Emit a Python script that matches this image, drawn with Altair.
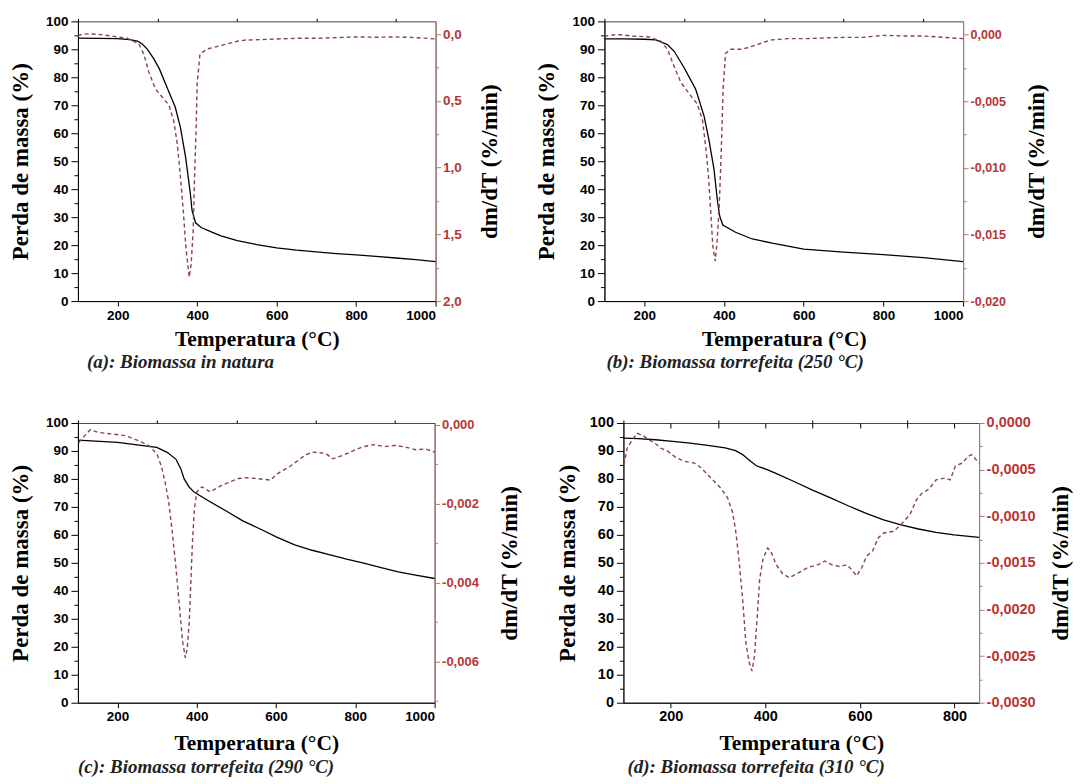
import altair as alt
import pandas as pd

# ---------------- data ----------------
# (a) Biomassa in natura
a_T_mass = [100, 150, 200, 230, 250, 262, 275, 291, 305, 324, 345, 358, 371, 383, 387, 396, 410, 434, 460, 501, 550, 600, 650, 700, 750, 800, 850, 900, 950, 1000]
a_mass = [94.0, 93.9, 93.8, 93.5, 92.9, 91.9, 90.0, 86.6, 83.0, 76.4, 69.3, 62.0, 51.4, 38.3, 32.5, 28.0, 26.3, 24.8, 23.3, 21.6, 20.2, 19.0, 18.2, 17.6, 17.0, 16.5, 16.0, 15.4, 14.8, 14.1]
a_T_dtg = [100, 110, 126, 150, 182, 224, 253, 266, 278, 295, 312, 329, 341, 350, 358, 365, 371, 375, 380, 385, 390, 393, 397, 400, 407, 425, 459, 501, 522, 560, 600, 650, 700, 750, 800, 850, 900, 950, 1000]
a_dtg = [0.012, 0.0, -0.003, 0.0, 0.012, 0.03, 0.07, 0.15, 0.28, 0.41, 0.47, 0.53, 0.65, 0.82, 1.07, 1.32, 1.57, 1.69, 1.82, 1.72, 1.47, 1.12, 0.75, 0.37, 0.15, 0.11, 0.085, 0.052, 0.043, 0.04, 0.035, 0.03, 0.03, 0.025, 0.02, 0.022, 0.02, 0.025, 0.035]

# (b) Biomassa torrefeita (250 °C)
b_T_mass = [100, 150, 200, 229, 258, 275, 300, 329, 350, 362, 375, 383, 389, 397, 429, 471, 521, 600, 700, 800, 900, 1000]
b_mass = [93.7, 93.7, 93.6, 93.4, 91.7, 89.3, 83.4, 75.7, 66.1, 57.8, 47.1, 36.5, 30.5, 27.2, 24.6, 22.2, 20.7, 18.6, 17.5, 16.6, 15.5, 14.1]
b_T_dtg = [100, 120, 138, 170, 212, 242, 258, 275, 292, 317, 333, 346, 354, 361, 367, 372, 378, 383, 388, 393, 398, 404, 417, 446, 488, 517, 560, 600, 650, 700, 750, 800, 850, 900, 950, 1000]
b_dtg = [-0.00012, -0.00002, 0.0, -0.0001, -0.00017, -0.0005, -0.0011, -0.0024, -0.0036, -0.0046, -0.0052, -0.0064, -0.0084, -0.0106, -0.0134, -0.0159, -0.0170, -0.0154, -0.0129, -0.0089, -0.0039, -0.0014, -0.0011, -0.0011, -0.0007, -0.0004, -0.0003, -0.0003, -0.00025, -0.0002, -0.0002, -0.00005, -0.0001, -0.0001, -0.0002, -0.0003]

# (c) Biomassa torrefeita (290 °C)
c_T_mass = [100, 200, 299, 325, 347, 360, 368, 381, 394, 429, 473, 516, 560, 603, 647, 691, 734, 778, 821, 865, 908, 952, 1000]
c_mass = [93.9, 93.1, 91.3, 89.5, 87.1, 83.5, 80.0, 77.0, 75.2, 72.2, 68.6, 65.0, 62.1, 59.1, 56.4, 54.5, 52.9, 51.3, 49.9, 48.3, 46.8, 45.6, 44.4]
c_T_dtg = [102, 114, 131, 152, 186, 219, 253, 278, 299, 310, 320, 329, 337, 345, 352, 358, 364, 371, 376, 381, 385, 389, 394, 400, 413, 434, 463, 505, 525, 551, 586, 603, 638, 673, 691, 725, 743, 769, 795, 821, 847, 874, 900, 926, 952, 978, 1000]
c_dtg = [-0.00045, -0.00031, -0.00012, -0.00019, -0.00023, -0.00027, -0.0004, -0.00052, -0.00073, -0.00103, -0.00145, -0.00195, -0.00263, -0.00338, -0.00414, -0.00482, -0.00549, -0.00591, -0.00566, -0.00498, -0.00397, -0.00296, -0.00212, -0.0017, -0.00157, -0.0017, -0.00153, -0.00136, -0.00134, -0.00136, -0.0014, -0.00124, -0.00103, -0.00077, -0.00069, -0.00072, -0.00086, -0.00077, -0.00065, -0.00055, -0.0005, -0.00055, -0.00052, -0.00056, -0.00063, -0.00061, -0.00069]

# (d) Biomassa torrefeita (310 °C)
d_T_mass = [100, 131, 168, 204, 241, 278, 315, 337, 352, 367, 381, 404, 426, 463, 501, 538, 575, 612, 650, 687, 724, 761, 799, 852]
d_mass = [94.6, 94.4, 94.0, 93.4, 92.8, 92.0, 91.1, 90.1, 88.7, 86.6, 84.7, 83.3, 81.7, 78.9, 75.9, 73.2, 70.4, 67.8, 65.4, 63.6, 62.1, 60.9, 60.0, 59.1]
d_T_dtg = [101, 108, 119, 129, 140, 154, 165, 179, 193, 211, 228, 250, 264, 285, 306, 320, 331, 338, 345, 352, 359, 366, 372, 377, 383, 388, 395, 405, 412, 423, 437, 451, 469, 490, 512, 526, 540, 558, 572, 582, 593, 604, 614, 627, 639, 650, 672, 687, 706, 720, 732, 746, 761, 780, 791, 802, 817, 828, 836, 852]
d_dtg = [-0.00045, -0.00027, -0.00018, -0.00011, -0.00013, -0.00018, -0.00021, -0.00027, -0.0003, -0.00037, -0.00041, -0.00043, -0.00048, -0.00059, -0.0007, -0.0008, -0.00096, -0.00118, -0.0015, -0.00189, -0.00236, -0.00257, -0.00266, -0.0025, -0.00207, -0.00168, -0.00146, -0.00134, -0.00138, -0.00152, -0.00162, -0.00166, -0.00161, -0.00155, -0.00152, -0.00148, -0.00152, -0.00154, -0.00152, -0.00157, -0.00164, -0.00155, -0.00143, -0.00137, -0.00123, -0.00118, -0.00116, -0.00109, -0.00098, -0.00082, -0.00075, -0.00071, -0.00061, -0.00059, -0.00061, -0.00046, -0.00043, -0.00036, -0.00034, -0.00043]

captions = ["(a): Biomassa in natura", "(b): Biomassa torrefeita (250 °C)",
            "(c): Biomassa torrefeita (290 °C)", "(d): Biomassa torrefeita (310 °C)"]

mass_major = list(range(0, 101, 10))
mass_minor = [v + 5 for v in range(0, 100, 10)]

RED_LINE = "#8a4646"
RED_LABEL = "#b83535"
RED_AXIS = "#b07878"
SANS = "Liberation Sans"
SERIF = "Liberation Serif"


def label_expr(decimals):
    return ("(datum.value < -1e-12 ? '-' : '') + replace(format(abs(datum.value), '.%df'), '.', ',')" % decimals)


def panel(Tm, M, Td, D, xdom, xmaj, xmin, rdom, rmaj, rmin, dec, caption, w, h,
          reverse=False, lsize=13.5, rsize=13, ltp=13, rtp=18, xtp=7, cdx=4, coff=2, top_ticks=None):
    dfm = pd.DataFrame({"T": Tm, "M": M})
    dfd = pd.DataFrame({"T": Td, "D": D})
    xs = alt.Scale(domain=xdom, nice=False, zero=False)
    ys = alt.Scale(domain=[0, 100], nice=False, zero=False)
    rs = alt.Scale(domain=rdom, nice=False, zero=False, reverse=reverse)

    black = alt.Chart(dfm).mark_line(color="black", strokeWidth=1.3).encode(
        x=alt.X("T:Q", scale=xs, axis=alt.Axis(
            values=xmaj, format="d", title="Temperatura (°C)",
            labelFont=SANS, labelFontWeight="bold", labelFontSize=lsize,
            titleFont=SERIF, titleFontWeight="bold", titleFontSize=21.5,
            titleAngle=0, titleBaseline="top",
            tickSize=5, labelPadding=2, titlePadding=xtp, grid=False,
            domainColor="black", tickColor="black", labelColor="black", titleColor="black")),
        y=alt.Y("M:Q", scale=ys, axis=alt.Axis(
            values=mass_major, orient="left", title="Perda de massa (%)",
            labelFont=SANS, labelFontWeight="bold", labelFontSize=lsize,
            titleFont=SERIF, titleFontWeight="bold", titleFontSize=23,
            titleAngle=270, titleBaseline="bottom",
            tickSize=7, labelPadding=3, titlePadding=ltp, grid=False,
            domainColor="black", tickColor="black", labelColor="black", titleColor="black")),
    )
    black_minor = alt.Chart(dfm).mark_line(opacity=0).encode(
        x=alt.X("T:Q", scale=xs, axis=alt.Axis(values=xmin, labels=False, title=None, tickSize=3,
                                                domain=False, tickColor="black", grid=False)),
        y=alt.Y("M:Q", scale=ys, axis=alt.Axis(values=mass_minor, orient="left", labels=False, title=None,
                                                tickSize=4, domain=False, tickColor="black", grid=False)),
    )
    red = alt.Chart(dfd).mark_line(color=RED_LINE, strokeDash=[4, 3], strokeWidth=1.4).encode(
        x=alt.X("T:Q", scale=xs, axis=None),
        y=alt.Y("D:Q", scale=rs, axis=alt.Axis(
            values=rmaj, orient="right", title="dm/dT (%/min)", labelExpr=label_expr(dec),
            labelFont=SANS, labelFontWeight="bold", labelFontSize=rsize,
            titleFont=SERIF, titleFontWeight="bold", titleFontSize=23,
            titleAngle=270, titleBaseline="top", titlePadding=rtp,
            tickSize=5, labelPadding=2, grid=False,
            domainColor=RED_AXIS, tickColor=RED_AXIS, labelColor=RED_LABEL, titleColor="black")),
    )
    red_minor = alt.Chart(dfd).mark_line(opacity=0).encode(
        x=alt.X("T:Q", scale=xs, axis=None),
        y=alt.Y("D:Q", scale=rs, axis=alt.Axis(values=rmin, orient="right", labels=False, title=None,
                                                tickSize=3, domain=False, tickColor=RED_AXIS, grid=False)),
    )
    layers = [black, black_minor, red, red_minor]
    if top_ticks is not None:
        # inward ticks on the top frame (axis pulled inside by its tick length)
        layers.append(alt.Chart(dfm).mark_line(opacity=0).encode(
            x=alt.X("T:Q", scale=xs, axis=alt.Axis(orient="top", values=top_ticks, labels=False, title=None,
                                                    domain=False, tickSize=5, offset=-5,
                                                    tickColor="black", grid=False)),
            y=alt.Y("M:Q", scale=ys, axis=None)))
    return alt.layer(*layers).resolve_scale(
        y="independent").resolve_axis(x="independent", y="independent").properties(
        width=w, height=h,
        title=alt.TitleParams(text=caption, orient="bottom", anchor="start", frame="group",
                              font=SERIF, fontSize=19, fontStyle="italic", fontWeight="bold",
                              color="#222222", offset=coff, dx=cdx))


x_maj = [200, 400, 600, 800, 1000]
x_min = [100, 300, 500, 700, 900]

pa = panel(a_T_mass, a_mass, a_T_dtg, a_dtg, [100, 1000], x_maj, x_min,
           [-0.097, 2.0], [0.0, 0.5, 1.0, 1.5, 2.0], [0.25, 0.75, 1.25, 1.75], 1,
           captions[0], 358, 280, reverse=True, rsize=13.5, rtp=17, cdx=9, coff=3)
pb = panel(b_T_mass, b_mass, b_T_dtg, b_dtg, [100, 1000], x_maj, x_min,
           [-0.020, 0.001], [0.0, -0.005, -0.010, -0.015, -0.020],
           [-0.0025, -0.0075, -0.0125, -0.0175], 3, captions[1], 359, 280,
           rsize=12.5, rtp=20, cdx=2, coff=3)
pc = panel(c_T_mass, c_mass, c_T_dtg, c_dtg, [100, 1000], x_maj, x_min,
           [-0.00705, 0.00005], [0.0, -0.002, -0.004, -0.006],
           [-0.001, -0.003, -0.005, -0.007], 3, captions[2], 357, 280,
           rtp=20, xtp=9, cdx=0, coff=4)
pd_ = panel(d_T_mass, d_mass, d_T_dtg, d_dtg, [100, 852], [200, 400, 600, 800], [100, 300, 500, 700],
            [-0.003, 0.0], [0.0, -0.0005, -0.001, -0.0015, -0.002, -0.0025, -0.003],
            [-0.00025, -0.00075, -0.00125, -0.00175, -0.00225, -0.00275], 4, captions[3], 356, 280,
            lsize=14.5, rsize=14.5, ltp=10, rtp=14, xtp=9, cdx=4, coff=4,
            top_ticks=[200, 300, 400, 500, 600, 700, 800])

row1 = alt.hconcat(pa, pb, spacing=32)
row2 = alt.hconcat(pc, pd_, spacing=33)
chart = alt.vconcat(row1, row2, spacing=41).properties(
    background="white", padding={"left": 0, "top": 5, "right": 0, "bottom": 0}).configure(
    style={"guide-title": {"font": SERIF, "fontWeight": "bold"},
           "guide-label": {"font": SANS, "fontWeight": "bold"}}).configure_view(
    stroke="#444444", strokeWidth=1).configure_axis(
    titleFont=SERIF, titleFontWeight="bold", labelFont=SANS, labelFontWeight="bold")

chart.save("out.html", embed_options={"renderer": "svg", "actions": False})
